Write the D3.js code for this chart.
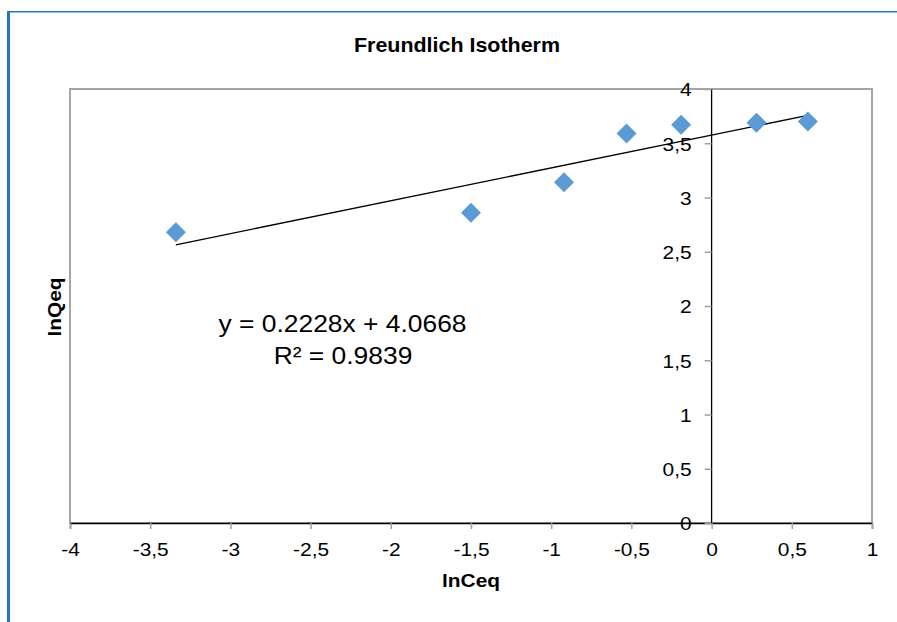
<!DOCTYPE html>
<html>
<head>
<meta charset="utf-8">
<script src="https://cdn.jsdelivr.net/npm/d3@7/dist/d3.min.js"></script>
<style>
  html, body { margin: 0; padding: 0; background: #fff; }
  svg { display: block; }
  text { font-family: "Liberation Sans", Arial, sans-serif; fill: #000; }
</style>
</head>
<body>
<svg id="chart" width="897" height="622"></svg>
<script>
// ---- data ----
const lnCeq = [-3.34, -1.50, -0.92, -0.53, -0.19, 0.28, 0.60];
const lnQeq = [2.68, 2.86, 3.14, 3.59, 3.67, 3.69, 3.70];
const xTicks = [-4, -3.5, -3, -2.5, -2, -1.5, -1, -0.5, 0, 0.5, 1];
const yTicks = [0, 0.5, 1, 1.5, 2, 2.5, 3, 3.5, 4];
const titleText = "Freundlich Isotherm";
const xTitle = "lnCeq";
const yTitle = "lnQeq";
const eqText = ["y = 0.2228x + 4.0668", "R\u00B2 = 0.9839"];

// ---- setup ----
const HS = 1.1; // horizontal stretch of text in reference
const svg = d3.select("#chart");
const locale = d3.formatLocale({decimal: ",", thousands: ".", grouping: [3], currency: ["", ""], minus: "-"});
const fmt = locale.format("");

const plot = {left: 70, right: 872, top: 89, bottom: 523};
const x = d3.scaleLinear().domain([-4, 1]).range([plot.left, plot.right]);
const y = d3.scaleLinear().domain([0, 4]).range([plot.bottom, plot.top]);

// outer frame
svg.append("line").attr("x1", 7.5).attr("x2", 897).attr("y1", 11.8).attr("y2", 11.8)
  .attr("stroke", "#1f78c8").attr("stroke-width", 1.6);
svg.append("line").attr("x1", 8.5).attr("x2", 8.5).attr("y1", 11).attr("y2", 622)
  .attr("stroke", "#1f78c8").attr("stroke-width", 3);

// plot area border
svg.append("rect")
  .attr("x", plot.left).attr("y", plot.top)
  .attr("width", plot.right - plot.left).attr("height", plot.bottom - plot.top)
  .attr("fill", "none").attr("stroke", "#a6a6a6").attr("stroke-width", 2);

function addText(str, tx, ty, size, weight, anchor, rotate) {
  return svg.append("text")
    .attr("transform", `translate(${tx},${ty})` + (rotate ? ` rotate(${rotate})` : "") + ` scale(${HS},1)`)
    .attr("text-anchor", anchor || "middle")
    .attr("font-size", size)
    .attr("font-weight", weight || "normal")
    .text(str);
}

// x axis
const xAxis = svg.append("g")
  .attr("transform", `translate(0,${y(0)})`)
  .call(d3.axisBottom(x).tickValues(xTicks).tickFormat(fmt).tickSize(6).tickPadding(0));
xAxis.attr("font-family", null).attr("font-size", null);
xAxis.select(".domain").attr("stroke", "#000").attr("stroke-width", 1.3);
xAxis.selectAll(".tick line").attr("stroke", "#a0a0a0").attr("stroke-width", 1.5);
xAxis.selectAll(".tick text")
  .attr("y", 33).attr("dy", null)
  .attr("font-size", 19)
  .attr("fill", "#000")
  .attr("transform", `scale(${HS},1)`);

// y axis
const yAxis = svg.append("g")
  .attr("transform", `translate(${x(0)},0)`)
  .call(d3.axisLeft(y).tickValues(yTicks).tickFormat(fmt).tickSize(7).tickPadding(0));
yAxis.attr("font-family", null).attr("font-size", null);
yAxis.select(".domain").attr("stroke", "#000").attr("stroke-width", 1.3).attr("d", `M0,${y(4)}V${y(0)}`);
yAxis.selectAll(".tick line").attr("stroke", "#a0a0a0").attr("stroke-width", 1.5);
yAxis.selectAll(".tick text")
  .attr("x", -20 / HS).attr("dy", "0.36em")
  .attr("font-size", 19)
  .attr("fill", "#000")
  .attr("transform", `scale(${HS},1)`);

// trend line (least squares fit of the data)
const n = lnCeq.length;
const mx = d3.mean(lnCeq), my = d3.mean(lnQeq);
let sxy = 0, sxx = 0;
for (let i = 0; i < n; i++) { sxy += (lnCeq[i] - mx) * (lnQeq[i] - my); sxx += (lnCeq[i] - mx) ** 2; }
const slope = sxy / sxx, intercept = my - slope * mx;
const [xmin, xmax] = d3.extent(lnCeq);
svg.append("line")
  .attr("x1", x(xmin)).attr("y1", y(intercept + slope * xmin))
  .attr("x2", x(xmax)).attr("y2", y(intercept + slope * xmax))
  .attr("stroke", "#000").attr("stroke-width", 1.4);

// markers
const diamond = d3.symbol().type(d3.symbolSquare).size(200);
svg.append("g").selectAll("path")
  .data(lnCeq.map((v, i) => [v, lnQeq[i]]))
  .join("path")
  .attr("d", diamond)
  .attr("transform", d => `translate(${x(d[0])},${y(d[1])}) rotate(45)`)
  .attr("fill", "#5b9bd5");

// texts
addText(titleText, 457, 51.5, 19.5, "bold");
addText(xTitle, 471, 586.5, 19, "bold");
addText(yTitle, 60.5, 307, 19, "bold", "middle", -90);
addText(eqText[0], 342.5, 332, 24);
addText(eqText[1], 343, 363.5, 24);
</script>
</body>
</html>
